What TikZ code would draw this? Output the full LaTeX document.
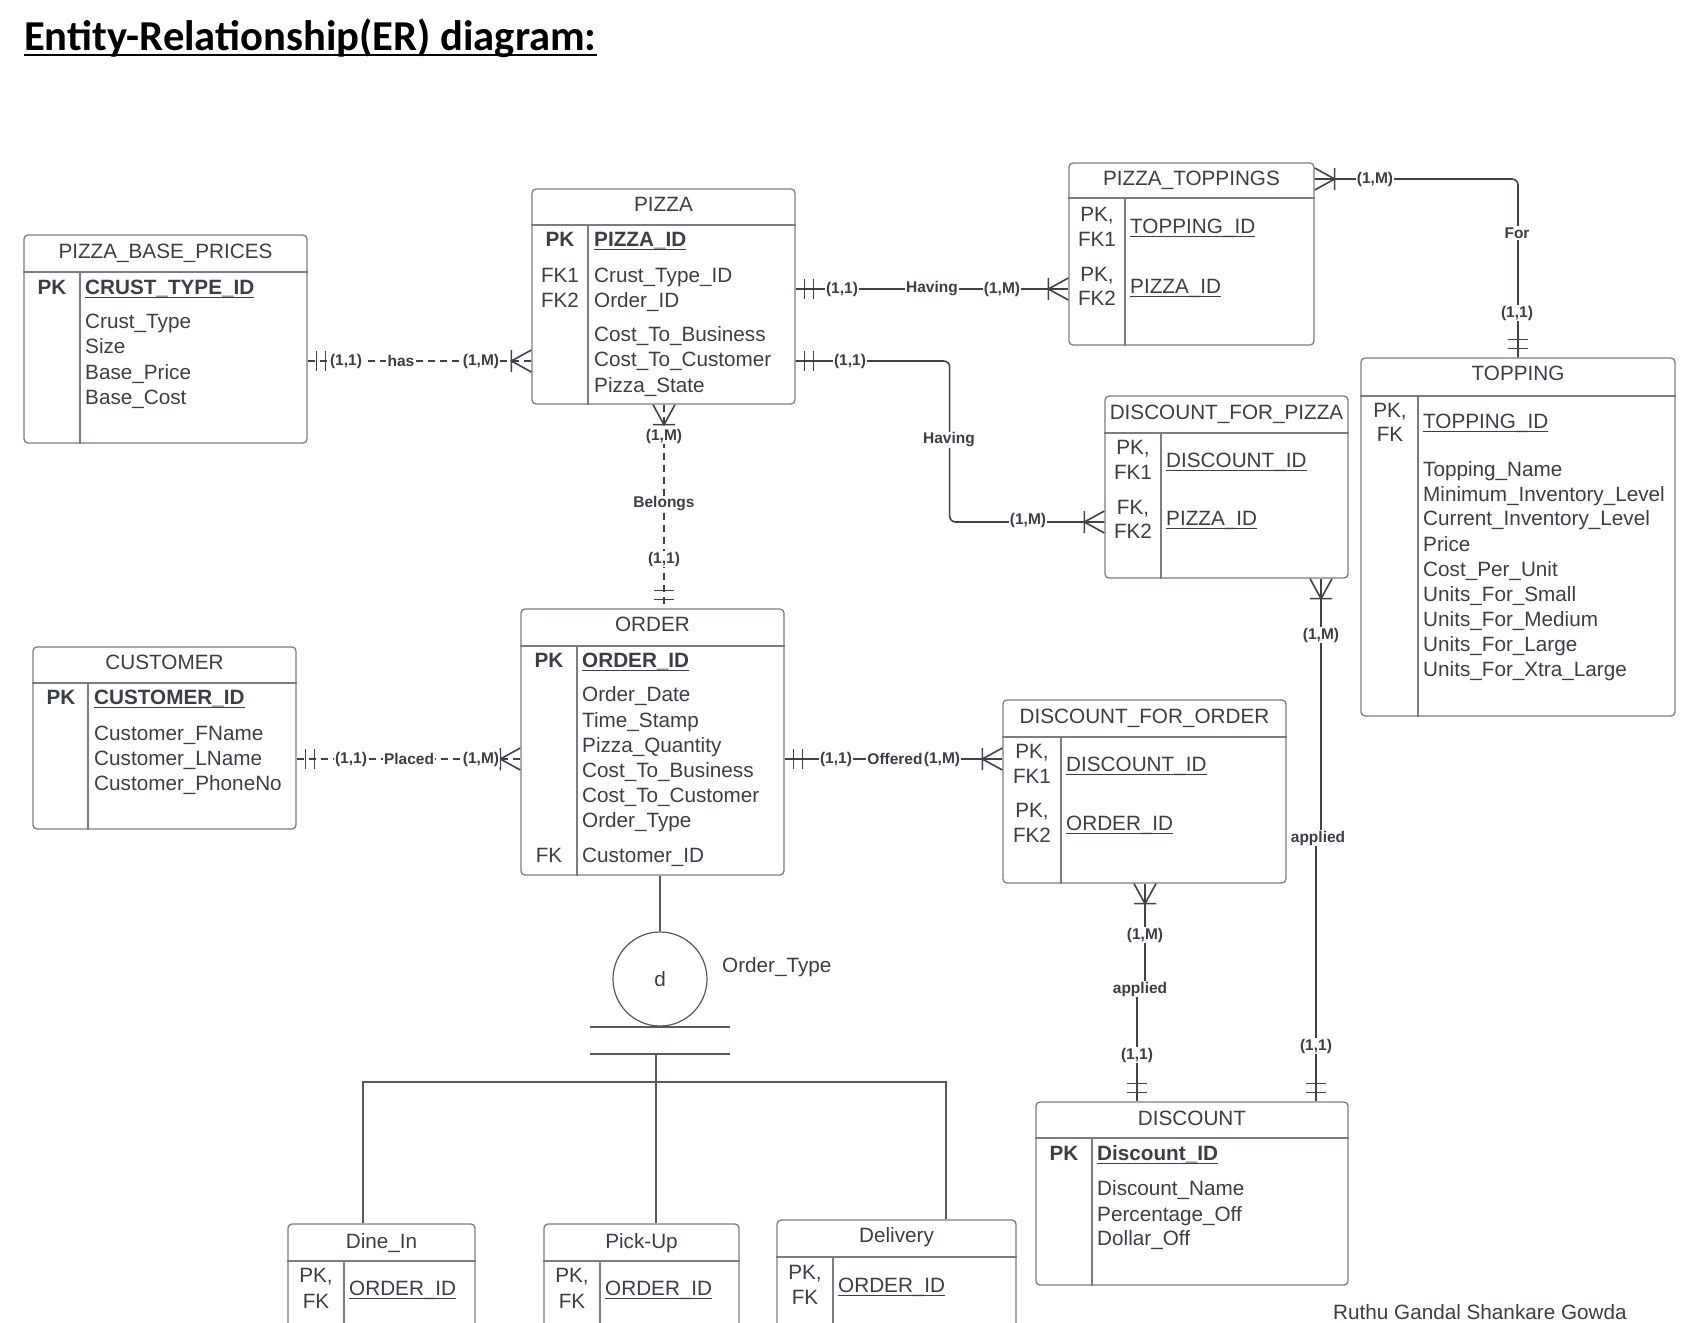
\documentclass[tikz,border=0pt]{standalone}
\usepackage{fontspec}
\setmainfont{Liberation Sans}
\newfontfamily\carlito{Carlito}
\definecolor{tc}{RGB}{58,63,71}
\definecolor{lc}{RGB}{62,66,74}
\definecolor{bc}{RGB}{122,126,132}
\definecolor{sc}{RGB}{85,89,96}
\tikzset{
 tbl/.style={draw=bc, line width=1.3pt, rounded corners=4pt, inner sep=0pt, fill=white},
 tline/.style={draw=bc, line width=1.3pt},
 txt/.style={inner sep=0pt, text=tc, font=\fontsize{20.7}{24}\selectfont, yshift=-7.4pt},
 bold/.style={font=\bfseries\fontsize{20.7}{24}\selectfont},
 attr/.style={txt, anchor=base west},
 keyt/.style={txt, anchor=base},
 ttl/.style={txt, anchor=base},
 conn/.style={draw=lc, line width=1.6pt},
 dsh/.style={conn, dash pattern=on 7pt off 5pt},
 lbl/.style={fill=white, inner sep=1.2pt, text=tc, font=\bfseries\fontsize{15.5}{18}\selectfont},
 ulst/.style={draw=tc, line width=1.4pt},
 sub/.style={draw=sc, line width=1.3pt},
}
% name l t r b header divider title titleY
\newcommand\ent[9]{%
  \pgfmathsetmacro\ecx{(#2+#4)/2}%
  \pgfmathsetmacro\ecy{(#3+#5)/2}%
  \pgfmathsetmacro\eww{#4-#2}%
  \pgfmathsetmacro\ehh{#5-#3}%
  \node[tbl, minimum width=\eww pt, minimum height=\ehh pt] (#1) at (\ecx,\ecy) {};
  \draw[tline] (#1.west |- 0,#6) -- (#1.east |- 0,#6);
  \draw[tline] (#7,#6) -- (#7,#6 |- #1.south);
  \node[ttl] (#1-title) at (\ecx,#9) {#8};
}
\newcommand\ulattr[5][]{%
  \node[attr,#1] (#2) at (#3,#4) {#5};
  \draw[ulst] ([yshift=-3pt]#2.base west) -- ([yshift=-3pt]#2.base east);
}
\newcommand\crowf[2]{\draw[conn, solid, shift={(#1)}, rotate=#2] (0,11) -- (20,0) -- (0,-11) (20,11) -- (20,-11);}
\newcommand\twobar[2]{\draw[conn, solid, shift={(#1)}, rotate=#2] (9,10) -- (9,-10) (18,10) -- (18,-10);}
\begin{document}
\begin{tikzpicture}[x=1pt,y=-1pt]
\useasboundingbox (0,0) rectangle (1690,1323);
\fill[white] (0,0) rectangle (1690,1323);
\clip (0,0) rectangle (1690,1323);

% title
\node[anchor=base west, inner sep=0pt, font=\carlito\bfseries\fontsize{42.6}{50}\selectfont] (title) at (24,50) {Entity-Relationship(ER) diagram:};
\draw[line width=2.6pt] ([yshift=-5pt]title.base west) -- ([yshift=-5pt]title.base east);

% PIZZA_BASE_PRICES
\ent{pbp}{24}{235}{307}{443}{272}{80}{PIZZA\_BASE\_PRICES}{251}
\node[keyt,bold] (pbpk) at (52,287) {PK};
\ulattr[bold]{pbp1}{85}{287}{CRUST\_TYPE\_ID}
\node[attr] (pbp2) at (85,321) {Crust\_Type};
\node[attr] (pbp3) at (85,346) {Size};
\node[attr] (pbp4) at (85,372) {Base\_Price};
\node[attr] (pbp5) at (85,397) {Base\_Cost};

% PIZZA
\ent{pizza}{532}{189}{795}{404}{225}{588}{PIZZA}{204}
\node[keyt,bold] (pzk1) at (560,239) {PK};
\node[keyt] (pzk2) at (560,275) {FK1};
\node[keyt] (pzk3) at (560,300) {FK2};
\ulattr[bold]{pz1}{594}{239}{PIZZA\_ID}
\node[attr] (pz2) at (594,275) {Crust\_Type\_ID};
\node[attr] (pz3) at (594,300) {Order\_ID};
\node[attr] (pz4) at (594,334) {Cost\_To\_Business};
\node[attr] (pz5) at (594,359) {Cost\_To\_Customer};
\node[attr] (pz6) at (594,385) {Pizza\_State};

% PIZZA_TOPPINGS
\ent{pt}{1069}{163}{1314}{345}{198}{1125}{PIZZA\_TOPPINGS}{178}
\node[keyt] (ptk1) at (1097,214) {PK,};
\node[keyt] (ptk2) at (1097,239) {FK1};
\node[keyt] (ptk3) at (1097,274) {PK,};
\node[keyt] (ptk4) at (1097,298) {FK2};
\ulattr{pt1}{1130}{226}{TOPPING\_ID}
\ulattr{pt2}{1130}{286}{PIZZA\_ID}

% TOPPING
\ent{topping}{1361}{358}{1675}{716}{396}{1418}{TOPPING}{373}
\node[keyt] (tpk1) at (1390,410) {PK,};
\node[keyt] (tpk2) at (1390,434) {FK};
\ulattr{tp1}{1423}{421}{TOPPING\_ID}
\node[attr] (tp2) at (1423,469) {Topping\_Name};
\node[attr] (tp3) at (1423,494) {Minimum\_Inventory\_Level};
\node[attr] (tp4) at (1423,518) {Current\_Inventory\_Level};
\node[attr] (tp5) at (1423,544) {Price};
\node[attr] (tp6) at (1423,569) {Cost\_Per\_Unit};
\node[attr] (tp7) at (1423,594) {Units\_For\_Small};
\node[attr] (tp8) at (1423,619) {Units\_For\_Medium};
\node[attr] (tp9) at (1423,644) {Units\_For\_Large};
\node[attr] (tp10) at (1423,669) {Units\_For\_Xtra\_Large};

% DISCOUNT_FOR_PIZZA
\ent{dfp}{1105}{396}{1348}{578}{433}{1161}{DISCOUNT\_FOR\_PIZZA}{412}
\node[keyt] (dpk1) at (1133,447) {PK,};
\node[keyt] (dpk2) at (1133,472) {FK1};
\node[keyt] (dpk3) at (1133,507) {FK,};
\node[keyt] (dpk4) at (1133,531) {FK2};
\ulattr{dp1}{1166}{460}{DISCOUNT\_ID}
\ulattr{dp2}{1166}{518}{PIZZA\_ID}

% DISCOUNT_FOR_ORDER
\ent{dfo}{1003}{700}{1286}{883}{737}{1061}{DISCOUNT\_FOR\_ORDER}{716}
\node[keyt] (dok1) at (1032,751) {PK,};
\node[keyt] (dok2) at (1032,776) {FK1};
\node[keyt] (dok3) at (1032,810) {PK,};
\node[keyt] (dok4) at (1032,835) {FK2};
\ulattr{do1}{1066}{764}{DISCOUNT\_ID}
\ulattr{do2}{1066}{823}{ORDER\_ID}

% DISCOUNT
\ent{discount}{1036}{1102}{1348}{1285}{1138}{1092}{DISCOUNT}{1118}
\node[keyt,bold] (dsk1) at (1064,1153) {PK};
\ulattr[bold]{ds1}{1097}{1153}{Discount\_ID}
\node[attr] (ds2) at (1097,1188) {Discount\_Name};
\node[attr] (ds3) at (1097,1214) {Percentage\_Off};
\node[attr] (ds4) at (1097,1238) {Dollar\_Off};

% ORDER
\ent{order}{521}{609}{784}{875}{646}{577}{ORDER}{624}
\node[keyt,bold] (ork1) at (549,660) {PK};
\node[keyt] (ork2) at (549,855) {FK};
\ulattr[bold]{or1}{582}{660}{ORDER\_ID}
\node[attr] (or2) at (582,694) {Order\_Date};
\node[attr] (or3) at (582,720) {Time\_Stamp};
\node[attr] (or4) at (582,745) {Pizza\_Quantity};
\node[attr] (or5) at (582,770) {Cost\_To\_Business};
\node[attr] (or6) at (582,795) {Cost\_To\_Customer};
\node[attr] (or7) at (582,820) {Order\_Type};
\node[attr] (or8) at (582,855) {Customer\_ID};

% CUSTOMER
\ent{customer}{33}{647}{296}{829}{683}{88}{CUSTOMER}{662}
\node[keyt,bold] (cuk1) at (61,697) {PK};
\ulattr[bold]{cu1}{94}{697}{CUSTOMER\_ID}
\node[attr] (cu2) at (94,733) {Customer\_FName};
\node[attr] (cu3) at (94,758) {Customer\_LName};
\node[attr] (cu4) at (94,783) {Customer\_PhoneNo};

% subtypes
\ent{dinein}{288}{1224}{475}{1345}{1261}{344}{Dine\_In}{1241}
\node[keyt] (dik1) at (316,1275) {PK,};
\node[keyt] (dik2) at (316,1301) {FK};
\ulattr{di1}{349}{1288}{ORDER\_ID}
\ent{pickup}{544}{1224}{739}{1345}{1261}{600}{Pick-Up}{1241}
\node[keyt] (puk1) at (572,1275) {PK,};
\node[keyt] (puk2) at (572,1301) {FK};
\ulattr{pu1}{605}{1288}{ORDER\_ID}
\ent{delivery}{777}{1220}{1016}{1345}{1257}{833}{Delivery}{1235}
\node[keyt] (dek1) at (805,1272) {PK,};
\node[keyt] (dek2) at (805,1297) {FK};
\ulattr{de1}{838}{1285}{ORDER\_ID}

% disjoint subtype symbol
\node[circle, draw=sc, line width=1.2pt, minimum size=94pt, inner sep=0pt, text=tc, font=\fontsize{20.7}{24}\selectfont] (dc) at (660,979) {d};
\node[attr] (otl) at (722,965) {Order\_Type};
\draw[sub] (order.south -| dc.north) -- (dc.north);
\coordinate (bar1L) at (590,1027); \coordinate (bar1R) at (730,1027);
\coordinate (bar2L) at (590,1054); \coordinate (bar2R) at (730,1054);
\draw[sub] (bar1L) -- (bar1R);
\draw[sub] (bar2L) -- (bar2R);
\coordinate (bar2M) at (656,1054);
\coordinate (busL) at (363,1082); \coordinate (busR) at (946,1082);
\draw[sub] (bar2M) -- (pickup.north -| bar2M);
\draw[sub] (dinein.north -| busL) -- (busL) -- (busR) -- (delivery.north -| busR);

% ---------- connectors ----------
% has
\coordinate (hasA) at (pbp.east |- 0,361);
\coordinate (hasB) at (pizza.west |- 0,361);
\draw[dsh] (hasA) -- (hasB);
\twobar{hasA}{0} \crowf{hasB}{180}
% Having (pizza - toppings)
\coordinate (hv1A) at (pizza.east |- 0,289);
\coordinate (hv1B) at (pt.west |- 0,289);
\draw[conn] (hv1A) -- (hv1B);
\twobar{hv1A}{0} \crowf{hv1B}{180}
% Having (pizza - discount for pizza)
\coordinate (hv2A) at (pizza.east |- 0,361);
\coordinate (hv2B) at (dfp.west |- 0,522);
\draw[conn, rounded corners=6pt] (hv2A) -- ++(154,0) |- (hv2B);
\twobar{hv2A}{0} \crowf{hv2B}{180}
% For
\coordinate (forA) at (pt.east |- 0,179);
\coordinate (forB) at (topping.north);
\draw[conn, rounded corners=6pt] (forA) -| (forB);
\crowf{forA}{0} \twobar{forB}{90}
% Belongs
\coordinate (blA) at (pizza.south -| 664,0);
\coordinate (blB) at (order.north -| 664,0);
\draw[dsh] (blA) -- (blB);
\crowf{blA}{270} \twobar{blB}{90}
% Placed
\coordinate (plA) at (customer.east |- 0,759);
\coordinate (plB) at (order.west |- 0,759);
\draw[dsh] (plA) -- (plB);
\twobar{plA}{0} \crowf{plB}{180}
% Offered
\coordinate (ofA) at (order.east |- 0,759);
\coordinate (ofB) at (dfo.west |- 0,759);
\draw[conn] (ofA) -- (ofB);
\twobar{ofA}{0} \crowf{ofB}{180}
% applied (discount for pizza - discount)
\coordinate (ap1A) at (dfp.south -| 1321,0);
\coordinate (ap1B) at (discount.north -| 1316,0);
\draw[conn] (ap1A) -- (ap1A |- 0,838) -- (ap1B |- 0,838) -- (ap1B);
\crowf{ap1A}{270} \twobar{ap1B}{90}
% applied (discount for order - discount)
\coordinate (ap2A) at (dfo.south -| 1145,0);
\coordinate (ap2B) at (discount.north -| 1137,0);
\draw[conn] (ap2A) -- (ap2A |- 0,989) -- (ap2B |- 0,989) -- (ap2B);
\crowf{ap2A}{270} \twobar{ap2B}{90}

% ---------- labels ----------
\node[lbl] (lhas1) at (346,361) {(1,1)};
\node[lbl] (lhas2) at (401,361) {has};
\node[lbl] (lhas3) at (481,361) {(1,M)};
\node[lbl] (lhv11) at (842,289) {(1,1)};
\node[lbl] (lhv12) at (932,289) {Having};
\node[lbl] (lhv13) at (1002,289) {(1,M)};
\node[lbl] (lhv21) at (850,361) {(1,1)};
\node[lbl] (lhv22) at (949,440) {Having};
\node[lbl] (lhv23) at (1028,520) {(1,M)};
\node[lbl] (lfor1) at (1375,179) {(1,M)};
\node[lbl] (lfor2) at (1517,233) {For};
\node[lbl] (lfor3) at (1517,313) {(1,1)};
\node[lbl] (lbl1) at (664,436) {(1,M)};
\node[lbl] (lbl2) at (664,504) {Belongs};
\node[lbl] (lbl3) at (664,559) {(1,1)};
\node[lbl] (lpl1) at (351,759) {(1,1)};
\node[lbl] (lpl2) at (409,759) {Placed};
\node[lbl] (lpl3) at (481,759) {(1,M)};
\node[lbl] (lof1) at (836,759) {(1,1)};
\node[lbl] (lof2) at (895,759) {Offered};
\node[lbl] (lof3) at (942,759) {(1,M)};
\node[lbl] (lap11) at (1321,635) {(1,M)};
\node[lbl] (lap12) at (1318,838) {applied};
\node[lbl] (lap13) at (1316,1046) {(1,1)};
\node[lbl] (lap21) at (1145,935) {(1,M)};
\node[lbl] (lap22) at (1140,989) {applied};
\node[lbl] (lap23) at (1137,1055) {(1,1)};

% author
\node[attr] (author) at (1333,1312) {Ruthu Gandal Shankare Gowda};
\end{tikzpicture}
\end{document}
